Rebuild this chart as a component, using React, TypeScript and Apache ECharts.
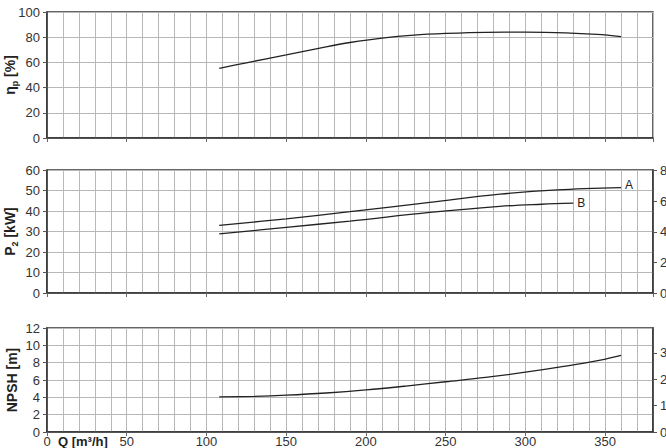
import React, { useEffect, useRef } from "react";
import * as echarts from "echarts";

// Flow Q [m3/h] and curve values
const effQ = [108, 125, 150, 175, 190, 210, 230, 250, 275, 300, 325, 345, 360];
const effVal = [55.3, 59.7, 66, 72.4, 75.8, 79.3, 81.7, 83, 83.9, 84, 83.5, 82.2, 80.4];

const pAQ = [108, 150, 190, 240, 284, 320, 360];
const pAVal = [33, 36.2, 39.7, 44.2, 48.2, 50.3, 51.4];
const pBQ = [108, 150, 190, 240, 284, 310, 330];
const pBVal = [28.8, 32, 35.1, 39.3, 42.3, 43.3, 43.8];

const npshQ = [108, 130, 150, 175, 200, 225, 250, 275, 300, 325, 347, 360];
const npshVal = [4.05, 4.12, 4.25, 4.5, 4.85, 5.3, 5.8, 6.3, 6.9, 7.6, 8.3, 8.85];

const xTitle = "Q [m³/h]";
const seriesNames = ["A", "B"];

const zip = (a: number[], b: number[]) => a.map((v, i) => [v, b[i]]);

const FONT = "Liberation Sans, Arial, Helvetica, sans-serif";
const GRID_COLOR = "#b8b8b8";
const AXIS_COLOR = "#333";
const TEXT_COLOR = "#333";

export default function App() {
  const ref = useRef<HTMLDivElement>(null);
  useEffect(() => {
    if (!ref.current) return;
    const chart = echarts.init(ref.current, undefined, { renderer: "svg" });

    const gridBase = {
      left: 47,
      width: 606,
      show: true,
      borderColor: AXIS_COLOR,
      borderWidth: 1.5,
      backgroundColor: "#fff",
      containLabel: false,
      outerBoundsMode: "none",
    };
    const grids = [
      { ...gridBase, top: 12, height: 126 },
      { ...gridBase, top: 170, height: 123 },
      { ...gridBase, top: 328, height: 104 },
    ];

    const xAxes = [0, 1, 2].map((i) => ({
      type: "value",
      gridIndex: i,
      min: 0,
      max: 380,
      interval: 50,
      splitNumber: 5,
      axisLine: { show: true, lineStyle: { color: AXIS_COLOR, width: 1.5 } },
      axisTick: { show: true, length: 4, lineStyle: { color: "#666" } },
      axisLabel: {
        show: i === 2,
        margin: 3,
        fontSize: 13,
        color: TEXT_COLOR,
        fontFamily: FONT,
        showMaxLabel: false,
      },
      splitLine: { show: true, lineStyle: { color: GRID_COLOR, width: 1 } },
      minorTick: { show: false, splitNumber: 5 },
      minorSplitLine: { show: true, lineStyle: { color: GRID_COLOR, width: 1 } },
    }));

    const nameRich = {
      n: { fontSize: 14, fontWeight: "bold", fontFamily: FONT, color: "#222" },
      s: { fontSize: 9, fontWeight: "bold", fontFamily: FONT, color: "#222", padding: [9, 0, 0, 0] },
    };

    const leftAxis = (i: number, max: number, interval: number, name: string, gap: number) => ({
      type: "value",
      gridIndex: i,
      min: 0,
      max,
      interval,
      position: "left",
      name,
      nameLocation: "middle",
      nameGap: gap,
      nameRotate: 90,
      nameMoveOverlap: false,
      nameTextStyle: { rich: nameRich, fontSize: 14, fontWeight: "bold", fontFamily: FONT, color: "#222" },
      axisLine: { show: true, lineStyle: { color: AXIS_COLOR, width: 1.5 } },
      axisTick: { show: true, length: 4, lineStyle: { color: "#555" } },
      axisLabel: { margin: 7, fontSize: 13, color: TEXT_COLOR, fontFamily: FONT },
      splitLine: { show: true, lineStyle: { color: GRID_COLOR, width: 1 } },
    });

    const rightAxis = (i: number, max: number, interval: number) => ({
      type: "value",
      gridIndex: i,
      min: 0,
      max,
      interval,
      position: "right",
      axisLine: { show: true, lineStyle: { color: AXIS_COLOR, width: 1.5 } },
      axisTick: { show: true, length: 4, lineStyle: { color: "#555" } },
      axisLabel: { margin: 7, fontSize: 13, color: TEXT_COLOR, fontFamily: FONT, showMaxLabel: false },
      splitLine: { show: false },
    });

    const yAxes = [
      leftAxis(0, 100, 20, "{n|η}{s|p}{n| [%]}", 28),
      leftAxis(1, 60, 10, "{n|P}{s|2}{n| [kW]}", 28),
      leftAxis(2, 12, 2, "{n|NPSH [m]}", 28),
      rightAxis(1, 80.46, 20),
      rightAxis(2, 39.37, 10),
    ];

    const lineBase = {
      type: "line",
      smooth: 0.35,
      showSymbol: false,
      symbol: "none",
      lineStyle: { color: "#222", width: 1.3 },
      silent: true,
    };

    chart.setOption({
      animation: false,
      backgroundColor: "#fff",
      grid: grids,
      xAxis: xAxes,
      yAxis: yAxes,
      series: [
        { ...lineBase, name: "eta", xAxisIndex: 0, yAxisIndex: 0, data: zip(effQ, effVal) },
        {
          ...lineBase,
          name: seriesNames[0],
          xAxisIndex: 1,
          yAxisIndex: 1,
          data: zip(pAQ, pAVal),
          endLabel: { show: true, formatter: "{a}", distance: 4, fontSize: 12, color: "#222", fontFamily: FONT, offset: [0, -3] },
        },
        {
          ...lineBase,
          name: seriesNames[1],
          xAxisIndex: 1,
          yAxisIndex: 1,
          data: zip(pBQ, pBVal),
          endLabel: { show: true, formatter: "{a}", distance: 4, fontSize: 12, color: "#222", fontFamily: FONT },
        },
        { ...lineBase, name: "npsh", xAxisIndex: 2, yAxisIndex: 2, data: zip(npshQ, npshVal) },
      ],
      graphic: [
        {
          type: "text",
          left: 58,
          top: 435,
          style: { text: xTitle, fontSize: 13, fontWeight: "bold", fontFamily: FONT, fill: "#222" },
          silent: true,
        },
      ],
    });
    return () => chart.dispose();
  }, []);
  return (
    <div
      ref={ref}
      style={{ position: "fixed", left: 0, top: 0, width: 666, height: 448, background: "#fff" }}
    />
  );
}
